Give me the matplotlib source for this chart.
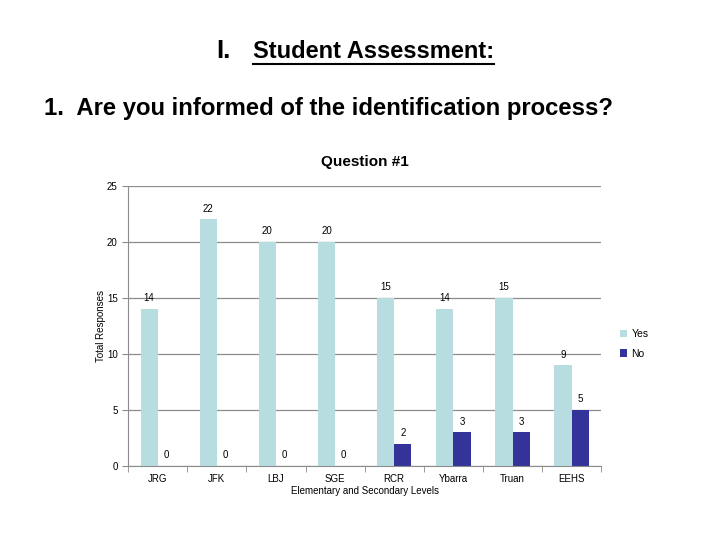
import matplotlib
matplotlib.use("Agg")
import matplotlib.pyplot as plt
import numpy as np
from matplotlib.lines import Line2D

plt.rcParams['font.family'] = ['Liberation Sans', 'DejaVu Sans']

# data
schools = ["JRG", "JFK", "LBJ", "SGE", "RCR", "Ybarra", "Truan", "EEHS"]
yes_vals = [14, 22, 20, 20, 15, 14, 15, 9]
no_vals = [0, 0, 0, 0, 2, 3, 3, 5]
yticks = [0, 5, 10, 15, 20, 25]

c_yes = "#B7DDE1"
c_no = "#333399"

fig = plt.figure(figsize=(7.2, 5.4), dpi=100)
ax = fig.add_axes([0.178, 0.137, 0.657, 0.519])

x = np.arange(len(schools))
w = 0.29
b1 = ax.bar(x - w / 2, yes_vals, w, color=c_yes, label="Yes", zorder=2)
b2 = ax.bar(x + w / 2, no_vals, w, color=c_no, label="No", zorder=2)

for rect, v in zip(list(b1) + list(b2), yes_vals + no_vals):
    ax.text(rect.get_x() + rect.get_width() / 2, v + 0.5, str(v),
            ha='center', va='bottom', fontsize=7)

ax.set_xlim(-0.5, len(schools) - 0.5)
ax.set_ylim(0, 25)
ax.set_yticks(yticks)
ax.yaxis.grid(True, color='#8c8c8c', linewidth=0.9, zorder=0)
ax.set_axisbelow(True)

# category ticks between groups
ax.set_xticks(x)
ax.set_xticklabels(schools, fontsize=7)
ax.set_xticks(np.arange(-0.5, len(schools)), minor=True)
ax.tick_params(axis='x', which='major', length=0, pad=6)
ax.tick_params(axis='x', which='minor', length=4, color='#8c8c8c')
ax.tick_params(axis='y', labelsize=7, length=4, color='#8c8c8c')

for s in ['top', 'right']:
    ax.spines[s].set_visible(False)
ax.spines['left'].set_color('#8c8c8c')
ax.spines['bottom'].set_color('#8c8c8c')

ax.set_ylabel("Total Responses", fontsize=7, labelpad=1)
ax.set_xlabel("Elementary and Secondary Levels", fontsize=7, labelpad=1)

ax.legend(loc='center left', bbox_to_anchor=(1.02, 0.436), frameon=False,
          fontsize=7.5, handlelength=0.7, handleheight=0.7, handletextpad=0.4,
          labelspacing=0.9)

ax.set_title("Question #1", fontsize=11, fontweight='bold', pad=14)

# slide headings
fig.text(0.300, 0.893, "I.", fontsize=18.5, fontweight='bold',
         ha='left', va='baseline')
t = fig.text(0.351, 0.893, "Student Assessment:", fontsize=17, fontweight='bold',
             ha='left', va='baseline')
fig.text(0.456, 0.80, "1.  Are you informed of the identification process?",
         fontsize=17.2, fontweight='bold', ha='center', va='center')

fig.canvas.draw()
bb = t.get_window_extent().transformed(fig.transFigure.inverted())
fig.add_artist(Line2D([bb.x0, bb.x1], [bb.y0 - 0.002, bb.y0 - 0.002],
                      color='black', linewidth=1.5))

fig.savefig("out.png", dpi=100)
